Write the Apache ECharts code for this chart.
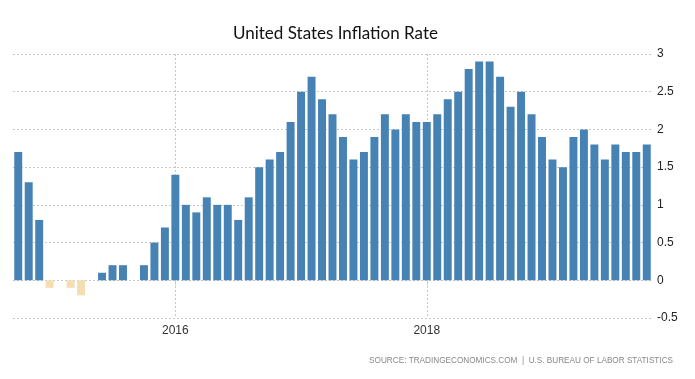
<!DOCTYPE html>
<html>
<head>
<meta charset="utf-8">
<script src="https://cdn.jsdelivr.net/npm/echarts@6/dist/echarts.min.js"></script>
<style>html,body{margin:0;padding:0;background:#fff}#c{width:695px;height:379px}</style>
</head>
<body>
<div id="c"></div>
<script>
// Monthly categories Oct 2014 .. Oct 2019
var months = [
 '2014-10','2014-11','2014-12',
 '2015-01','2015-02','2015-03','2015-04','2015-05','2015-06','2015-07','2015-08','2015-09','2015-10','2015-11','2015-12',
 '2016-01','2016-02','2016-03','2016-04','2016-05','2016-06','2016-07','2016-08','2016-09','2016-10','2016-11','2016-12',
 '2017-01','2017-02','2017-03','2017-04','2017-05','2017-06','2017-07','2017-08','2017-09','2017-10','2017-11','2017-12',
 '2018-01','2018-02','2018-03','2018-04','2018-05','2018-06','2018-07','2018-08','2018-09','2018-10','2018-11','2018-12',
 '2019-01','2019-02','2019-03','2019-04','2019-05','2019-06','2019-07','2019-08','2019-09','2019-10'
];
var inflation = [
 1.7,1.3,0.8,
 -0.1,0.0,-0.1,-0.2,0.0,0.1,0.2,0.2,0.0,0.2,0.5,0.7,
 1.4,1.0,0.9,1.1,1.0,1.0,0.8,1.1,1.5,1.6,1.7,2.1,
 2.5,2.7,2.4,2.2,1.9,1.6,1.7,1.9,2.2,2.0,2.2,2.1,
 2.1,2.2,2.4,2.5,2.8,2.9,2.9,2.7,2.3,2.5,2.2,1.9,
 1.6,1.5,1.9,2.0,1.8,1.6,1.8,1.7,1.7,1.8
];
var yTicks = [-0.5,0,0.5,1,1.5,2,2.5,3];
var yearLabels = ['2016-01','2018-01'];

var chart = echarts.init(document.getElementById('c'), null, {renderer:'canvas'});
function isYear(i){ return yearLabels.indexOf(months[i]) >= 0; }
chart.setOption({
  animation:false,
  title:{
    text:'United States Inflation Rate',
    left:228, top:20,
    textStyle:{fontFamily:'Lato', fontSize:17, fontWeight:'normal', color:'#111'}
  },
  grid:{left:13, right:43, top:54, bottom:61},
  xAxis:{
    type:'category',
    data:months,
    boundaryGap:true,
    axisLine:{show:false},
    axisTick:{
      show:true, alignWithLabel:true, length:5,
      interval:function(i){return isYear(i);},
      lineStyle:{color:'#c8c8c8', type:[2,2], width:1}
    },
    axisLabel:{
      interval:function(i){return isYear(i);},
      formatter:function(v){return v.slice(0,4);},
      color:'#333', fontSize:12, fontFamily:'Liberation Sans', margin:7
    },
    splitLine:{
      show:true, alignWithLabel:true,
      interval:function(i){return isYear(i);},
      lineStyle:{color:'#c8c8c8', type:[2,2], width:1}
    }
  },
  yAxis:{
    type:'value',
    position:'right',
    min:-0.5, max:3, interval:0.5,
    axisLine:{show:false},
    axisTick:{show:false},
    axisLabel:{color:'#222', fontSize:12, fontFamily:'Liberation Sans', margin:5,
      formatter:function(v){return String(v);}},
    splitLine:{lineStyle:{color:'#c8c8c8', type:[2,2], width:1}}
  },
  series:[{
    type:'bar',
    data:inflation,
    barCategoryGap:'24%',
    itemStyle:{color:function(p){return p.value < 0 ? '#f5deb3' : '#4682b4';}}
  }],
  graphic:[{
    type:'text',
    right:22, top:357,
    style:{text:'SOURCE: TRADINGECONOMICS.COM  |  U.S. BUREAU OF LABOR STATISTICS',
      fill:'#888', font:'8.2px "Liberation Sans"'}
  }]
});
</script>
</body>
</html>
